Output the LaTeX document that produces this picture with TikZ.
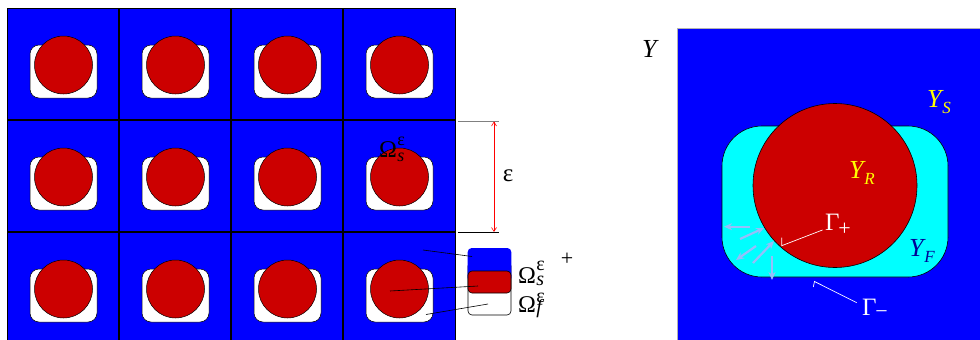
\documentclass[tikz,border=0pt]{standalone}
\usepackage{fontspec}
\setmainfont{Liberation Serif}
\usetikzlibrary{arrows.meta}
\definecolor{cred}{RGB}{204,0,0}
\definecolor{cblue}{RGB}{0,0,255}
\definecolor{ccyan}{RGB}{0,255,255}
\definecolor{cyel}{RGB}{255,255,0}
\definecolor{cnavy}{RGB}{0,0,150}
\definecolor{carrow}{RGB}{150,190,250}
% base with stacked super/subscript: #1 base, #2 sup, #3 sub, #4 script size, #5 raise, #6 lower
\newcommand\ssbstack[6]{#1\kern0.5pt\rlap{\raisebox{#5}{\fontsize{#4}{#4}\selectfont #2}}\raisebox{-#6}{\fontsize{#4}{#4}\selectfont #3}}
% italic Y with subscript
\newcommand\ysub[1]{\textit{Y}\kern-1.5pt\raisebox{-6.5pt}{\fontsize{17}{17}\selectfont\textit{#1}}}
\tikzset{
  cellbox/.style={fill=cblue},
  gridline/.style={draw=black,line width=1.3pt},
  pore/.style={fill=white,draw=black,line width=0.5pt,rounded corners=9pt},
  grain/.style={fill=cred,draw=black,line width=0.5pt},
  lbl/.style={inner sep=0pt,outer sep=0pt,anchor=base west},
  leader/.style={draw=black,line width=0.6pt},
  wleader/.style={draw=white,line width=0.7pt},
  flux/.style={draw=carrow,line width=2.2pt,-{Stealth[length=8pt,width=7pt]}},
}
\begin{document}
\begin{tikzpicture}[x=1pt,y=-1pt]
\useasboundingbox (0,0) rectangle (980,340);
\begin{scope}
\clip (0,0) rectangle (980,340);
% periodic grid
\path[cellbox] (7,8) rectangle (455,344);
\foreach \i in {0,...,3}{
  \foreach \j in {0,...,2}{
    \pgfmathsetmacro\cx{63+112*\i}
    \pgfmathsetmacro\cy{64+112*\j}
    \path[pore] (\cx-33,\cy-19) rectangle (\cx+34,\cy+34);
    \path[grain] (\cx+0.5,\cy+1) circle[radius=29pt];
  }
}
\draw[gridline] (119,8) -- (119,344);
\draw[gridline] (231,8) -- (231,344);
\draw[gridline] (343,8) -- (343,344);
\draw[gridline] (7,120) -- (455,120);
\draw[gridline] (7,232) -- (455,232);
\draw[line width=0.8pt] (7,344) -- (7,8) -- (455,8) -- (455,344);
% unit cell
\fill[cblue] (677,28) rectangle (980,345);
\draw[gray!60,line width=0.5pt] (677,345) -- (677,28) -- (980,28);
\path[fill=ccyan,draw=black,line width=0.6pt,rounded corners=40pt] (722,126) rectangle (948,277);
\path[grain,line width=0.6pt] (835,185.5) circle[radius=82pt];
\end{scope}

% grid label
\node[lbl,font=\fontsize{24}{24}\selectfont] (oms) at (379,157) {\ssbstack{Ω}{ε}{\textit{s}}{18}{12pt}{4pt}};

% epsilon dimension
\coordinate (et1) at (458,121);
\coordinate (et2) at (499,121);
\coordinate (eb1) at (458,232.5);
\coordinate (eb2) at (499,232.5);
\draw[gray,line width=0.8pt] (et1) -- (et2);
\draw[black,line width=0.6pt] (eb1) -- (eb2);
\coordinate (ea1) at (494,121.5);
\coordinate (ea2) at (494,232);
\draw[red,line width=0.6pt,{Straight Barb[length=4pt,width=5pt]}-{Straight Barb[length=4pt,width=5pt]}] (ea1) -- (ea2);
\node[inner sep=0pt,font=\fontsize{25}{25}\selectfont] (eps) at (508,176) {ε};

% legend
\path[fill=white,draw=black,line width=0.6pt,rounded corners=4pt] (468,262) rectangle (511,315);
\path[fill=cblue,rounded corners=4pt] (467.7,248) rectangle (511.3,282);
\path[fill=cred,draw=black,line width=0.6pt,rounded corners=4pt] (468,271) rectangle (511,293);
\node[lbl,font=\fontsize{24}{24}\selectfont] (ls) at (518,283.5) {\ssbstack{Ω}{ε}{\textit{s}}{20}{13pt}{1.5pt}};
\node[lbl,font=\fontsize{24}{24}\selectfont] (lf) at (518,312) {\ssbstack{Ω}{ε}{\textit{f}}{20}{9.5pt}{1pt}};
\node[inner sep=0pt,font=\fontsize{22}{22}\selectfont] (plus) at (567,259) {+};
\coordinate (p1a) at (423,250);
\coordinate (p1b) at (472,256.5);
\coordinate (p2a) at (390,291);
\coordinate (p2b) at (478,286);
\coordinate (p3a) at (426,314.5);
\coordinate (p3b) at (488,304);
\draw[leader] (p1a) -- (p1b);
\draw[leader] (p2a) -- (p2b);
\draw[leader] (p3a) -- (p3b);

% unit cell labels
\node[lbl,font=\fontsize{26}{26}\selectfont] (Y) at (642,57) {\textit{Y}};
\node[lbl,font=\fontsize{26}{26}\selectfont,text=cyel] (YS) at (927,107) {\ysub{S}};
\node[lbl,font=\fontsize{26}{26}\selectfont,text=cyel] (YR) at (849,178) {\ysub{R}};
\node[lbl,font=\fontsize{26}{26}\selectfont,text=cnavy] (YF) at (909,256) {\ysub{F}};
\node[lbl,font=\fontsize{25}{25}\selectfont,text=white] (Gp) at (825,230) {Γ\kern-1pt\raisebox{-5pt}{\fontsize{22}{22}\selectfont +}};
\node[lbl,font=\fontsize{25}{25}\selectfont,text=white] (Gm) at (862,315) {Γ\kern-1pt\raisebox{-3pt}{\fontsize{22}{22}\selectfont −}};
% white leaders
\coordinate (gpt) at (781.7,237.5);
\coordinate (gpc) at (781.7,245.7);
\coordinate (gpe) at (822.5,230);
\draw[wleader] (gpt) -- (gpc) -- (gpe);
\coordinate (gmt) at (813.3,287);
\coordinate (gmc) at (814.5,281.5);
\coordinate (gme) at (856.7,302.7);
\draw[wleader] (gmt) -- (gmc) -- (gme);
% flux arrows
\coordinate (f1a) at (750,226.7); \coordinate (f1b) at (724,226.7);
\coordinate (f2a) at (740,239);   \coordinate (f2b) at (764,228);
\coordinate (f3a) at (756,246);   \coordinate (f3b) at (736,260);
\coordinate (f4a) at (753,263);   \coordinate (f4b) at (774,241);
\coordinate (f5a) at (772,256);   \coordinate (f5b) at (772,280);
\draw[flux] (f1a) -- (f1b);
\draw[flux] (f2a) -- (f2b);
\draw[flux] (f3a) -- (f3b);
\draw[flux] (f4a) -- (f4b);
\draw[flux] (f5a) -- (f5b);
\end{tikzpicture}
\end{document}
